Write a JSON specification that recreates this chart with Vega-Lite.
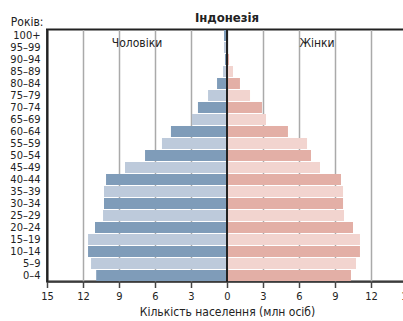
{
  "$schema": "https://vega.github.io/schema/vega-lite/v6.json",
  "autosize": {"type": "none"},
  "width": 360,
  "height": 252,
  "padding": {"left": 47, "top": 29.5, "right": 0, "bottom": 40},
  "config": {
    "font": "Liberation Sans Narrow, DejaVu Sans Condensed, Roboto",
    "view": {"stroke": "#222222", "strokeWidth": 2},
    "axis": {"labelColor": "#222", "titleColor": "#222", "labelFont": "Liberation Sans Narrow, DejaVu Sans Condensed", "titleFont": "Liberation Sans Narrow, DejaVu Sans Condensed"}
  },
  "title": {"text": "Індонезія", "anchor": "middle", "frame": "group", "fontSize": 13, "fontWeight": "bold", "color": "#222", "offset": 7, "dy": 16, "font": "Liberation Sans Narrow, DejaVu Sans Condensed"},
  "data": {"values": [
    {"age": "0–4", "sex": "Чоловіки", "value": 10.9},
    {"age": "5–9", "sex": "Чоловіки", "value": 11.33},
    {"age": "10–14", "sex": "Чоловіки", "value": 11.58},
    {"age": "15–19", "sex": "Чоловіки", "value": 11.58},
    {"age": "20–24", "sex": "Чоловіки", "value": 11.0},
    {"age": "25–29", "sex": "Чоловіки", "value": 10.33},
    {"age": "30–34", "sex": "Чоловіки", "value": 10.25},
    {"age": "35–39", "sex": "Чоловіки", "value": 10.25},
    {"age": "40–44", "sex": "Чоловіки", "value": 10.08},
    {"age": "45–49", "sex": "Чоловіки", "value": 8.5},
    {"age": "50–54", "sex": "Чоловіки", "value": 6.83},
    {"age": "55–59", "sex": "Чоловіки", "value": 5.42},
    {"age": "60–64", "sex": "Чоловіки", "value": 4.67},
    {"age": "65–69", "sex": "Чоловіки", "value": 2.92},
    {"age": "70–74", "sex": "Чоловіки", "value": 2.42},
    {"age": "75–79", "sex": "Чоловіки", "value": 1.58},
    {"age": "80–84", "sex": "Чоловіки", "value": 0.83},
    {"age": "85–89", "sex": "Чоловіки", "value": 0.33},
    {"age": "90–94", "sex": "Чоловіки", "value": 0.17},
    {"age": "95–99", "sex": "Чоловіки", "value": 0.25},
    {"age": "100+", "sex": "Чоловіки", "value": 0.25},
    {"age": "0–4", "sex": "Жінки", "value": 10.33},
    {"age": "5–9", "sex": "Жінки", "value": 10.75},
    {"age": "10–14", "sex": "Жінки", "value": 11.08},
    {"age": "15–19", "sex": "Жінки", "value": 11.08},
    {"age": "20–24", "sex": "Жінки", "value": 10.5},
    {"age": "25–29", "sex": "Жінки", "value": 9.75},
    {"age": "30–34", "sex": "Жінки", "value": 9.67},
    {"age": "35–39", "sex": "Жінки", "value": 9.67},
    {"age": "40–44", "sex": "Жінки", "value": 9.5},
    {"age": "45–49", "sex": "Жінки", "value": 7.75},
    {"age": "50–54", "sex": "Жінки", "value": 7.0},
    {"age": "55–59", "sex": "Жінки", "value": 6.67},
    {"age": "60–64", "sex": "Жінки", "value": 5.08},
    {"age": "65–69", "sex": "Жінки", "value": 3.25},
    {"age": "70–74", "sex": "Жінки", "value": 2.92},
    {"age": "75–79", "sex": "Жінки", "value": 1.92},
    {"age": "80–84", "sex": "Жінки", "value": 1.08},
    {"age": "85–89", "sex": "Жінки", "value": 0.5},
    {"age": "90–94", "sex": "Жінки", "value": 0.17},
    {"age": "95–99", "sex": "Жінки", "value": 0.05},
    {"age": "100+", "sex": "Жінки", "value": 0.02}
  ]},
  "transform": [
    {"calculate": "datum.sex === 'Чоловіки' ? -datum.value : datum.value", "as": "x"},
    {"calculate": "datum.sex + (indexof(['0–4','5–9','10–14','15–19','20–24','25–29','30–34','35–39','40–44','45–49','50–54','55–59','60–64','65–69','70–74','75–79','80–84','85–89','90–94','95–99','100+'], datum.age) % 2)", "as": "shade"}
  ],
  "encoding": {
    "y": {
      "field": "age", "type": "ordinal",
      "sort": ["100+","95–99","90–94","85–89","80–84","75–79","70–74","65–69","60–64","55–59","50–54","45–49","40–44","35–39","30–34","25–29","20–24","15–19","10–14","5–9","0–4"],
      "scale": {"paddingInner": 0.08, "paddingOuter": 0.04},
      "axis": {"title": "Років:", "titleAngle": 0, "titleAlign": "right", "titleBaseline": "alphabetic", "titleX": -4, "titleY": -4, "titleFontSize": 12, "titleFontWeight": "normal", "labelFontSize": 11, "labelPadding": 7, "ticks": false, "domain": true, "domainColor": "#222", "domainWidth": 2}
    }
  },
  "layer": [
    {
      "mark": {"type": "bar"},
      "encoding": {
        "x": {
          "field": "x", "type": "quantitative",
          "scale": {"domain": [-15, 15], "nice": false},
          "axis": {"values": [-15,-12,-9,-6,-3,0,3,6,9,12,15], "tickCount": 12, "labelExpr": "abs(datum.value)", "labelOverlap": false, "labelFlush": false, "grid": true, "gridColor": "#aaaaaa", "gridWidth": 1.5, "domainColor": "#444", "domainWidth": 1.5, "tickColor": "#444", "tickWidth": 1.5, "tickSize": 6, "labelFontSize": 11, "labelPadding": 3, "title": "Кількість населення (млн осіб)", "titleFontSize": 12, "titleFontWeight": "normal", "titlePadding": 5}
        },
        "color": {"field": "shade", "type": "nominal", "legend": null,
          "scale": {"domain": ["Чоловіки0","Чоловіки1","Жінки0","Жінки1"], "range": ["#7f9cb9","#bdcadb","#e3afa6","#f2d4cf"]}}
      }
    },
    {
      "mark": {"type": "rule", "color": "#222", "strokeWidth": 2},
      "encoding": {"x": {"datum": 0}, "y": {"value": 0}, "y2": {"value": 252}}
    },
    {
      "data": {"values": [{"label": "Чоловіки", "pos": -7.5}, {"label": "Жінки", "pos": 7.5}]},
      "mark": {"type": "text", "fontSize": 12, "color": "#222", "baseline": "middle", "dy": -5},
      "encoding": {
        "x": {"field": "pos", "type": "quantitative"},
        "y": {"datum": "95–99"},
        "text": {"field": "label"}
      }
    }
  ]
}
